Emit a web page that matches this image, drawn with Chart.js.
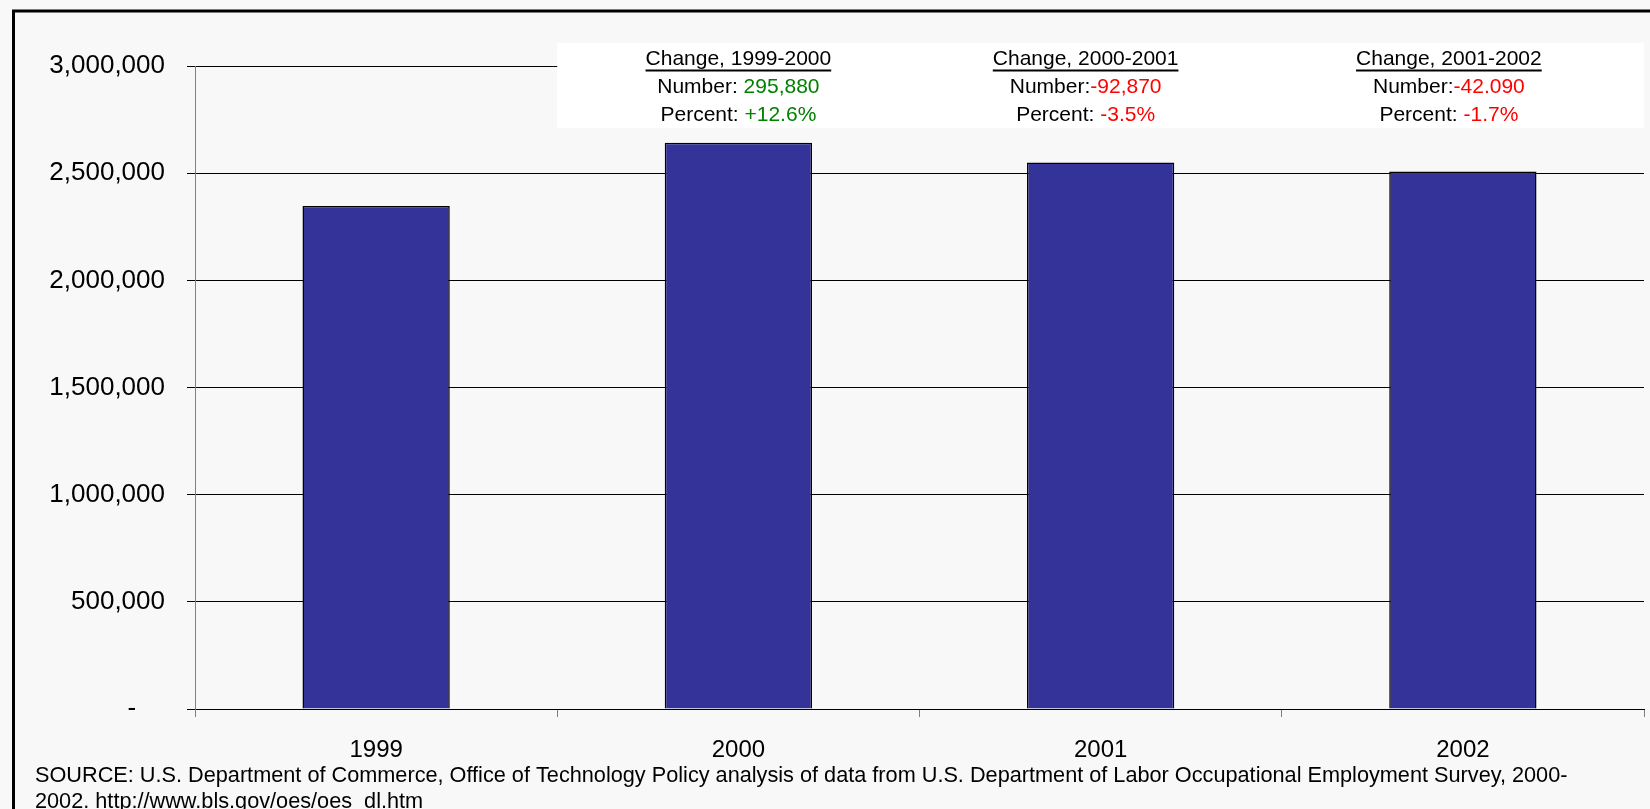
<!DOCTYPE html>
<html><head><meta charset="utf-8">
<script src="https://cdn.jsdelivr.net/npm/chart.js@4.4.0/dist/chart.umd.min.js"></script>
<style>html,body{margin:0;padding:0;background:#f8f8f8;overflow:hidden}#wrap{width:1650px;height:809px;position:relative}canvas{display:block}</style>
</head><body><div id="wrap"><canvas id="c" width="1650" height="809"></canvas></div>
<script>
const categories = ['1999', '2000', '2001', '2002'];
const employment = [2346400, 2642280, 2549410, 2507320];
const yTickValues = [0, 500000, 1000000, 1500000, 2000000, 2500000, 3000000];
const changeTitles = ['Change, 1999-2000', 'Change, 2000-2001', 'Change, 2001-2002'];
const changeNumberLabels = ['Number: ', 'Number:', 'Number:'];
const changeNumbers = ['295,880', '-92,870', '-42.090'];
const changePercentLabels = ['Percent: ', 'Percent: ', 'Percent: '];
const changePercents = ['+12.6%', '-3.5%', '-1.7%'];
const sourceLines = [
  'SOURCE: U.S. Department of Commerce, Office of Technology Policy analysis of data from U.S. Department of Labor Occupational Employment Survey, 2000-',
  '2002. http://www.bls.gov/oes/oes_dl.htm'
];

const FONT = '"Liberation Sans", Arial, Helvetica, sans-serif';
const annotationShift = [0, -15, -14];

function fmt(v) {
  if (v === 0) return '-    ';
  return v.toLocaleString('en-US');
}

const decor = {
  id: 'decor',
  beforeDraw(chart) {
    const ctx = chart.ctx;
    ctx.save();
    ctx.fillStyle = '#f8f8f8';
    ctx.fillRect(0, 0, chart.width, chart.height);
    ctx.restore();
  },
  afterDraw(chart) {
    const ctx = chart.ctx;
    const xs = chart.scales.x;
    const area = chart.chartArea;
    ctx.save();
    // outer frame
    ctx.strokeStyle = '#000';
    ctx.lineWidth = 3;
    ctx.beginPath();
    ctx.moveTo(13.5, chart.height + 5);
    ctx.lineTo(13.5, 11);
    ctx.lineTo(chart.width + 5, 11);
    ctx.stroke();

    // annotation box
    const boxLeft = (xs.getPixelForValue(0) + xs.getPixelForValue(1)) / 2;
    ctx.fillStyle = '#ffffff';
    ctx.fillRect(boxLeft, 43, area.right - boxLeft, 85);

    ctx.font = '21px ' + FONT;
    ctx.textBaseline = 'alphabetic';
    ctx.textAlign = 'left';
    for (let i = 0; i < changeTitles.length; i++) {
      const cx = xs.getPixelForValue(i + 1) + annotationShift[i];
      const t = changeTitles[i];
      const w = ctx.measureText(t).width;
      ctx.fillStyle = '#000';
      ctx.fillText(t, cx - w / 2, 65);
      ctx.fillRect(cx - w / 2, 69.5, w, 2);
      const rows = [
        [changeNumberLabels[i], changeNumbers[i], 93],
        [changePercentLabels[i], changePercents[i], 121]
      ];
      rows.forEach(([lab, val, y]) => {
        const w1 = ctx.measureText(lab).width;
        const w2 = ctx.measureText(val).width;
        const x0 = cx - (w1 + w2) / 2;
        ctx.fillStyle = '#000';
        ctx.fillText(lab, x0, y);
        ctx.fillStyle = val.trim().startsWith('-') ? '#ff0000' : '#008000';
        ctx.fillText(val, x0 + w1, y);
      });
    }

    // source note
    ctx.font = '21.7px ' + FONT;
    ctx.fillStyle = '#000';
    ctx.fillText(sourceLines[0], 35, 782);
    ctx.fillText(sourceLines[1], 35, 808);
    ctx.restore();
  }
};

new Chart(document.getElementById('c'), {
  type: 'bar',
  data: {
    labels: categories,
    datasets: [{
      data: employment,
      backgroundColor: '#333399',
      borderColor: '#000000',
      borderWidth: 1.5,
      categoryPercentage: 1,
      barPercentage: 0.4066
    }]
  },
  options: {
    responsive: false,
    animation: false,
    devicePixelRatio: 1,
    layout: { padding: { top: 66, right: 6, left: 0, bottom: 0 } },
    plugins: { legend: { display: false }, tooltip: { enabled: false }, title: { display: false } },
    scales: {
      x: {
        offset: true,
        afterFit(s) { s.height = 100; },
        grid: { offset: true, drawOnChartArea: false, drawTicks: true, tickLength: 8, color: '#808080', lineWidth: 1 },
        border: { display: true, color: '#000000', width: 1 },
        ticks: { font: { family: FONT, size: 24 }, color: '#000', padding: 19, maxRotation: 0 }
      },
      y: {
        min: 0,
        max: 3000000,
        afterFit(s) { s.width = 195; },
        afterBuildTicks(s) { s.ticks = yTickValues.map(v => ({ value: v })); },
        grid: { color: '#000000', lineWidth: 1, drawTicks: true, tickLength: 8 },
        border: { display: true, color: '#808080', width: 1 },
        ticks: { font: { family: FONT, size: 26 }, color: '#000', padding: 22, callback: (v) => fmt(v) }
      }
    }
  },
  plugins: [decor]
});
</script></body></html>
